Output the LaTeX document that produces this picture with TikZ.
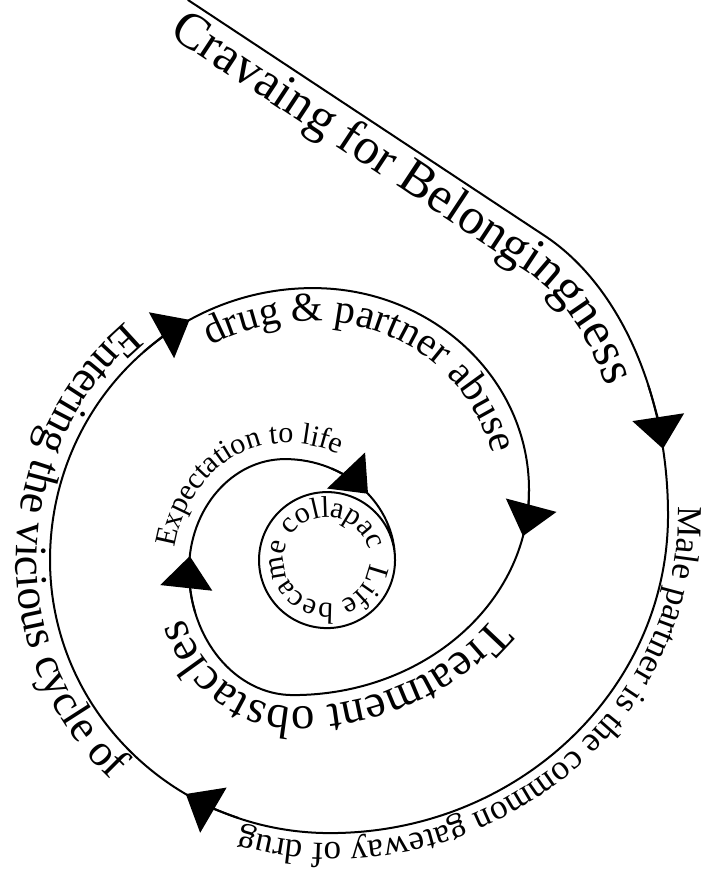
\documentclass[tikz,border=0pt]{standalone}
\usepackage{fontspec}
\setmainfont{Liberation Serif}
\usetikzlibrary{decorations.text,arrows.meta}
\newcommand\fCrav{\fontsize{51}{53}\selectfont}
\newcommand\fMale{\fontsize{35}{37}\selectfont}
\newcommand\fEnt{\fontsize{45}{47}\selectfont}
\newcommand\fDrug{\fontsize{41}{43}\selectfont}
\newcommand\fTreat{\fontsize{47}{49}\selectfont}
\newcommand\fExp{\fontsize{30}{32}\selectfont}
\newcommand\fLife{\fontsize{30}{32}\selectfont}
\begin{document}
\begin{tikzpicture}[x=1pt,y=-1pt,
  spiral/.style={line width=2pt, line cap=round, line join=round},
  tiparrow/.style={line width=2pt, -{Triangle[length=32pt,width=52pt]}},
  label along/.style={decorate, decoration={text along path, text align=left, text={#1}}}]
\useasboundingbox (0,0) rectangle (704,886);
% key points of the spiral
\coordinate (A0) at (188,0);
\coordinate (A1) at (545,236);
% spiral line
\draw[spiral] (A0) -- (A1)
  arc[start angle=294.33, end angle=360, x radius=209.2, y radius=306.3]
  arc[start angle=0, end angle=90, x radius=338, y radius=318]
  arc[start angle=90, end angle=180, x radius=280, y radius=273]
  arc[start angle=180, end angle=270, x radius=263, y radius=272]
  arc[start angle=270, end angle=360, x radius=216, y radius=202]
  arc[start angle=0, end angle=90, x radius=236, y radius=205]
  arc[start angle=90, end angle=180, x radius=104, y radius=125]
  arc[start angle=180, end angle=270, x radius=96, y radius=111]
  arc[start angle=270, end angle=360, x radius=110, y radius=101]
  arc[start angle=0, end angle=360, radius=68];
% arrowheads
\draw[tiparrow] ([shift={(458.8,515.1)}]335:209.2 and 306.3) arc[start angle=335, end angle=347.5, x radius=209.2, y radius=306.3];
\draw[tiparrow] ([shift={(330,560)}]109:280 and 273) arc[start angle=109, end angle=121, x radius=280, y radius=273];
\draw[tiparrow] ([shift={(313,560)}]230:263 and 272) arc[start angle=230, end angle=242, x radius=263, y radius=272];
\draw[tiparrow] ([shift={(293,490)}]0:236 and 205) arc[start angle=0, end angle=13, x radius=236, y radius=205];
\draw[tiparrow] ([shift={(293,570)}]160:104 and 125) arc[start angle=160, end angle=180, x radius=104, y radius=125] arc[start angle=180, end angle=187.2, x radius=96, y radius=111];
\draw[tiparrow] ([shift={(285,560)}]295:110 and 101) arc[start angle=295, end angle=319, x radius=110, y radius=101];
% texts along the spiral
\path[label along={|\fCrav|Cravaing for Belongingness}] (168.4,35) -- (522.9,269.4) arc[start angle=292.3, end angle=360, x radius=169.2, y radius=266.3];
\path[label along={|\fMale|Male partner is the common gateway of drug}] (678,506) -- (678,515) arc[start angle=0, end angle=90, x radius=348, y radius=328] arc[start angle=90, end angle=150, x radius=290, y radius=283];
\path[label along={|\fEnt|Entering the vicious cycle of}] (126.1,322.2) arc[start angle=231, end angle=180, x radius=297, y radius=306] arc[start angle=180, end angle=100, x radius=314, y radius=307];
\path[label along={|\fDrug|drug {\&} partner abuse}] (210.4,346.1) arc[start angle=243.5, end angle=270, x radius=230, y radius=239] arc[start angle=270, end angle=370, x radius=183, y radius=169];
\path[label along={|\fTreat|Treatment obstacles}] ([shift={(293,490)}]36:248 and 217) arc[start angle=36, end angle=90, x radius=248, y radius=217] arc[start angle=90, end angle=200, x radius=116, y radius=137];
\path[label along={|\fExp|Expectation to life}] ([shift={(285,570)}]190:112 and 127) arc[start angle=190, end angle=270, x radius=112, y radius=127] arc[start angle=270, end angle=360, x radius=126, y radius=117];
\path[label along={|\fLife|Life became collapac}] ([shift={(327,560)}]5:43) arc[start angle=5, end angle=365, radius=43];
\end{tikzpicture}
\end{document}
